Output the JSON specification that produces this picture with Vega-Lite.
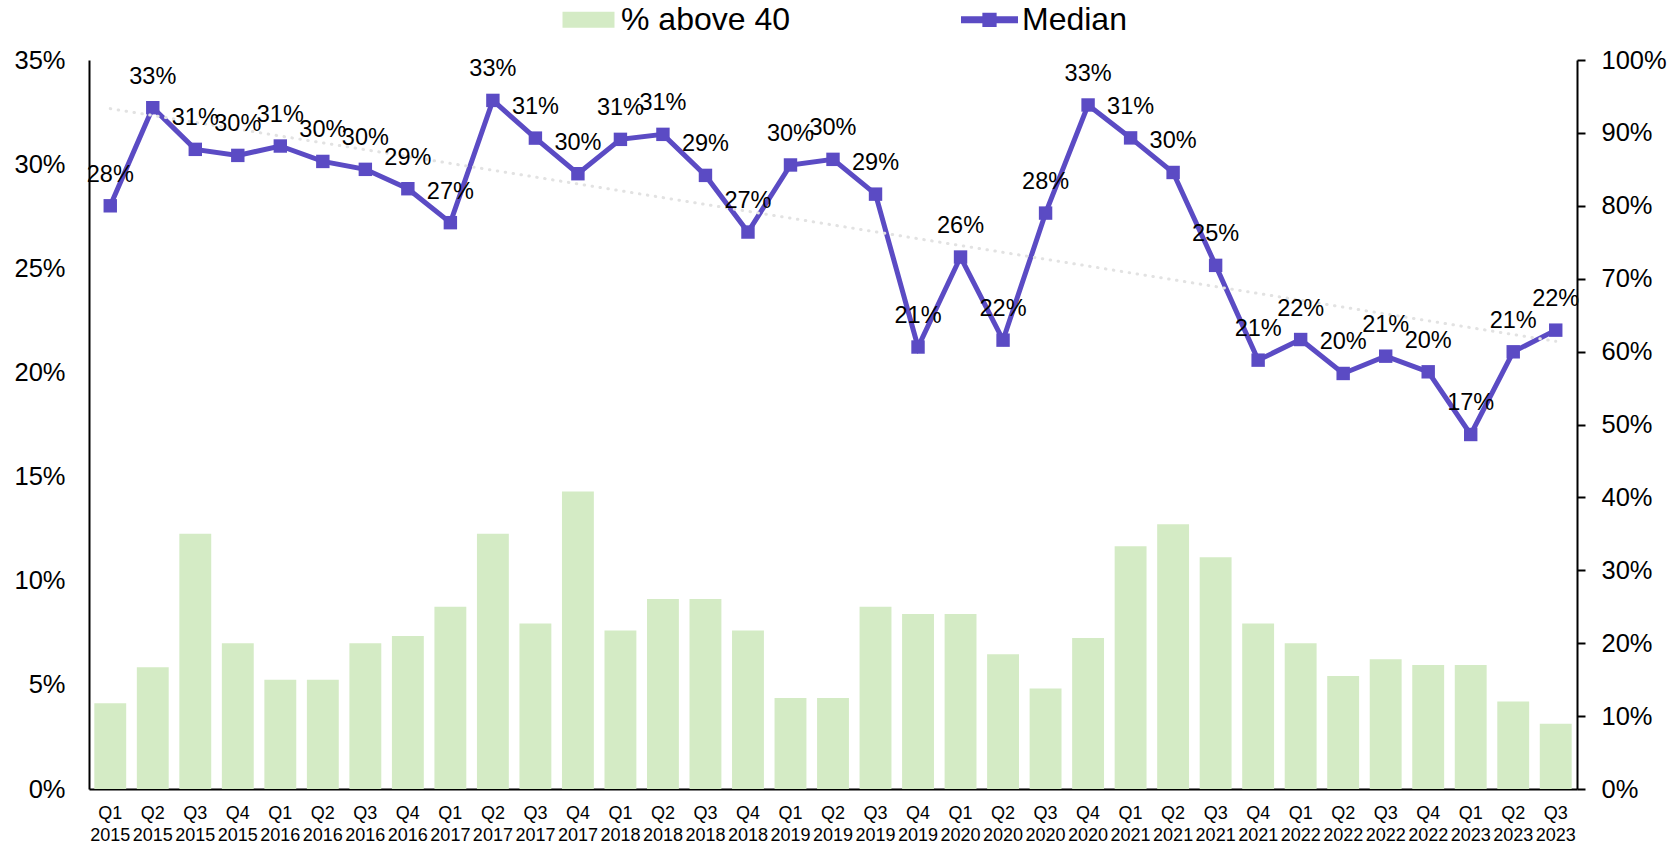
{
  "$schema": "https://vega.github.io/schema/vega-lite/v6.json",
  "width": 1488,
  "height": 729,
  "autosize": {"type": "none"},
  "padding": {"left": 89, "top": 60, "right": 95, "bottom": 54},
  "background": "white",
  "config": {
    "view": {"stroke": null},
    "font": "Liberation Sans",
    "axis": {"grid": false, "labelColor": "black", "domainColor": "black", "labelFont": "Liberation Sans"},
    "legend": {"labelFont": "Liberation Sans"}
  },
  "data": {
    "values": [
      {"idx": 0, "quarter": "Q1 2015", "pct40": 0.1175, "median": 0.2800},
      {"idx": 1, "quarter": "Q2 2015", "pct40": 0.167, "median": 0.3271},
      {"idx": 2, "quarter": "Q3 2015", "pct40": 0.350, "median": 0.3071},
      {"idx": 3, "quarter": "Q4 2015", "pct40": 0.200, "median": 0.3042},
      {"idx": 4, "quarter": "Q1 2016", "pct40": 0.150, "median": 0.3087},
      {"idx": 5, "quarter": "Q2 2016", "pct40": 0.150, "median": 0.3013},
      {"idx": 6, "quarter": "Q3 2016", "pct40": 0.200, "median": 0.2975},
      {"idx": 7, "quarter": "Q4 2016", "pct40": 0.210, "median": 0.2882},
      {"idx": 8, "quarter": "Q1 2017", "pct40": 0.250, "median": 0.2719},
      {"idx": 9, "quarter": "Q2 2017", "pct40": 0.350, "median": 0.3306},
      {"idx": 10, "quarter": "Q3 2017", "pct40": 0.227, "median": 0.3125},
      {"idx": 11, "quarter": "Q4 2017", "pct40": 0.408, "median": 0.2954},
      {"idx": 12, "quarter": "Q1 2018", "pct40": 0.2175, "median": 0.3119},
      {"idx": 13, "quarter": "Q2 2018", "pct40": 0.2605, "median": 0.3143},
      {"idx": 14, "quarter": "Q3 2018", "pct40": 0.2605, "median": 0.2946},
      {"idx": 15, "quarter": "Q4 2018", "pct40": 0.2175, "median": 0.2674},
      {"idx": 16, "quarter": "Q1 2019", "pct40": 0.125, "median": 0.2996},
      {"idx": 17, "quarter": "Q2 2019", "pct40": 0.125, "median": 0.3023},
      {"idx": 18, "quarter": "Q3 2019", "pct40": 0.250, "median": 0.2856},
      {"idx": 19, "quarter": "Q4 2019", "pct40": 0.240, "median": 0.2122},
      {"idx": 20, "quarter": "Q1 2020", "pct40": 0.240, "median": 0.2554},
      {"idx": 21, "quarter": "Q2 2020", "pct40": 0.185, "median": 0.2155},
      {"idx": 22, "quarter": "Q3 2020", "pct40": 0.138, "median": 0.2765},
      {"idx": 23, "quarter": "Q4 2020", "pct40": 0.207, "median": 0.3284},
      {"idx": 24, "quarter": "Q1 2021", "pct40": 0.333, "median": 0.3126},
      {"idx": 25, "quarter": "Q2 2021", "pct40": 0.363, "median": 0.2960},
      {"idx": 26, "quarter": "Q3 2021", "pct40": 0.318, "median": 0.2514},
      {"idx": 27, "quarter": "Q4 2021", "pct40": 0.227, "median": 0.2059},
      {"idx": 28, "quarter": "Q1 2022", "pct40": 0.200, "median": 0.2158},
      {"idx": 29, "quarter": "Q2 2022", "pct40": 0.155, "median": 0.1995},
      {"idx": 30, "quarter": "Q3 2022", "pct40": 0.178, "median": 0.2078},
      {"idx": 31, "quarter": "Q4 2022", "pct40": 0.170, "median": 0.2003},
      {"idx": 32, "quarter": "Q1 2023", "pct40": 0.170, "median": 0.1702},
      {"idx": 33, "quarter": "Q2 2023", "pct40": 0.120, "median": 0.2099},
      {"idx": 34, "quarter": "Q3 2023", "pct40": 0.0895, "median": 0.2203}
    ]
  },
  "layer": [
    {
      "mark": {"type": "bar"},
      "encoding": {
        "x": {
          "field": "quarter", "type": "ordinal", "sort": null,
          "scale": {"paddingInner": 0.25, "paddingOuter": 0.125},
          "axis": {
            "orient": "bottom", "title": null,
            "labelExpr": "split(datum.label, ' ')",
            "labelFontSize": 18, "labelLineHeight": 22, "labelPadding": 15,
            "labelAngle": 0, "labelBaseline": "top",
            "labelOverlap": false, "labelBound": false, "labelFlush": false,
            "ticks": false, "domainWidth": 2
          }
        },
        "y": {
          "field": "pct40", "type": "quantitative",
          "scale": {"domain": [0, 1], "nice": false},
          "axis": {
            "orient": "right", "title": null, "format": ".0%",
            "values": [0, 0.1, 0.2, 0.3, 0.4, 0.5, 0.6, 0.7, 0.8, 0.9, 1],
            "tickSize": 8, "tickWidth": 2, "tickColor": "black",
            "domainWidth": 2, "labelFontSize": 25.5, "labelPadding": 16
          }
        },
        "color": {
          "datum": "% above 40",
          "scale": {"domain": ["% above 40", "Median"], "range": ["#d4ebc5", "#5b4bc4"]},
          "legend": {
            "orient": "none", "legendX": 471, "legendY": -69,
            "direction": "horizontal", "title": null,
            "labelFontSize": 32, "labelColor": "black", "labelOffset": 4, "labelLimit": 400,
            "columnPadding": 170, "symbolSize": 3249,
            "encode": {
              "symbols": {
                "update": {
                  "shape": {"signal": "datum.value === 'Median' ? 'M-1,-0.12H1V0.12H-1Z M-0.25,-0.25H0.25V0.25H-0.25Z' : 'M-0.912,-0.28H0.912V0.28H-0.912Z'"},
                  "fill": {"signal": "datum.value === 'Median' ? '#5b4bc4' : '#d4ebc5'"},
                  "stroke": {"value": "transparent"},
                  "strokeWidth": {"value": 0},
                  "opacity": {"value": 1}
                }
              }
            }
          }
        }
      }
    },
    {
      "mark": {"type": "line", "strokeWidth": 5, "point": {"shape": "square", "size": 180, "filled": true}},
      "encoding": {
        "x": {"field": "quarter", "type": "ordinal", "sort": null, "axis": null},
        "y": {
          "field": "median", "type": "quantitative",
          "scale": {"domain": [0, 0.35], "nice": false},
          "axis": {
            "orient": "left", "title": null, "format": ".0%",
            "values": [0, 0.05, 0.1, 0.15, 0.2, 0.25, 0.3, 0.35],
            "ticks": false, "domainWidth": 2, "labelFontSize": 25.5, "labelPadding": 24
          }
        },
        "color": {"datum": "Median"}
      }
    },
    {
      "transform": [{"regression": "median", "on": "idx", "extent": [0, 34]}],
      "mark": {"type": "line", "stroke": "#e2e2e2", "strokeWidth": 3, "strokeDash": [0.5, 7.5], "strokeCap": "round"},
      "encoding": {
        "x": {"field": "idx", "type": "quantitative", "scale": {"domain": [-0.5, 34.5], "nice": false, "zero": false}, "axis": null},
        "y": {"field": "median", "type": "quantitative", "scale": {"domain": [0, 0.35], "nice": false}, "axis": null}
      }
    },
    {
      "mark": {"type": "text", "dy": -31, "fontSize": 23.5, "color": "black", "font": "Liberation Sans"},
      "encoding": {
        "x": {"field": "quarter", "type": "ordinal", "sort": null, "axis": null},
        "y": {"field": "median", "type": "quantitative", "scale": {"domain": [0, 0.35], "nice": false}, "axis": null},
        "text": {"field": "median", "type": "quantitative", "format": ".0%"}
      }
    }
  ],
  "resolve": {"scale": {"x": "independent", "y": "independent"}}
}
